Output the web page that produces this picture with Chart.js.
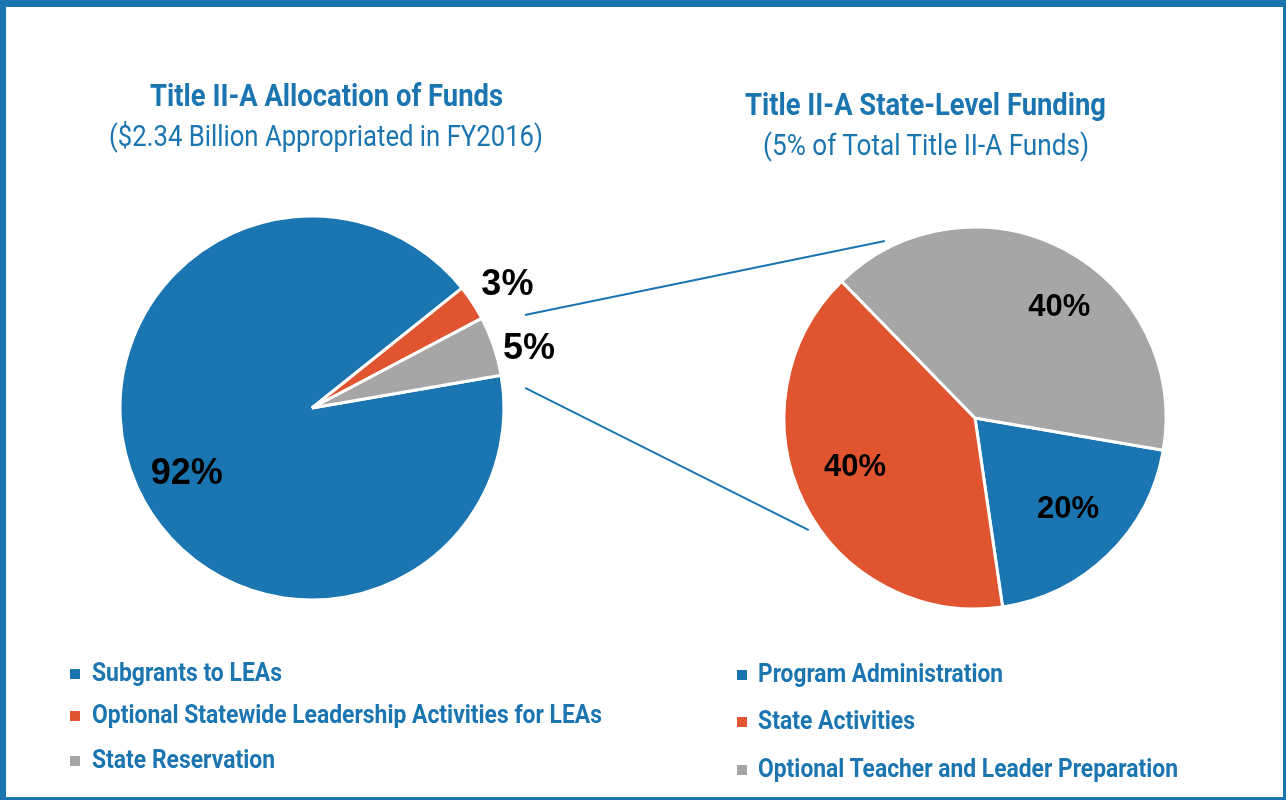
<!DOCTYPE html>
<html><head><meta charset="utf-8">
<script src="https://cdn.jsdelivr.net/npm/chart.js@4"></script>
<style>
html,body{margin:0;padding:0;background:#fff;}
#stage{position:relative;width:1286px;height:800px;overflow:hidden;background:#fff;}
canvas{position:absolute;left:0;top:0;}
#frame{position:absolute;left:0;top:0;width:1286px;height:800px;box-sizing:border-box;border-style:solid;border-color:#1a75b1;border-width:7px 3px 3px 6px;pointer-events:none;}
.t{position:absolute;left:0;white-space:nowrap;font-family:Roboto,'Noto Sans',sans-serif;color:#1a75b1;line-height:1;transform-origin:0 0;}
.m{position:absolute;width:10px;height:10px;}
</style></head>
<body><div id="stage"><canvas id="c1" width="1286" height="800"></canvas><canvas id="c2" width="1286" height="800"></canvas><div id="frame"></div></div>
<script>
// ---- data ----
const leftTitle = 'Title II-A Allocation of Funds';
const leftSubtitle = '($2.34 Billion Appropriated in FY2016)';
const leftLabels = ['Subgrants to LEAs', 'Optional Statewide Leadership Activities for LEAs', 'State Reservation'];
const leftValues = [92, 3, 5];

const rightTitle = 'Title II-A State-Level Funding';
const rightSubtitle = '(5% of Total Title II-A Funds)';
const rightLabels = ['Program Administration', 'State Activities', 'Optional Teacher and Leader Preparation'];
const rightValues = [20, 40, 40];

const sliceColors = ['#1a75b1', '#e05530', '#a6a6a6'];
const BLUE = '#1a75b1';

// ---- label plugin ----
const pctLabels = {
  id: 'pctLabels',
  afterDatasetsDraw(chart, args, opts) {
    const ctx = chart.ctx;
    const meta = chart.getDatasetMeta(0);
    const vals = chart.data.datasets[0].data;
    ctx.save();
    ctx.font = 'bold ' + opts.size + 'px "Liberation Sans", Arial, sans-serif';
    ctx.fillStyle = '#000';
    ctx.textAlign = 'center';
    ctx.textBaseline = 'alphabetic';
    meta.data.forEach((arc, i) => {
      const p = arc.getProps(['x', 'y', 'startAngle', 'endAngle', 'outerRadius'], true);
      const a = (p.startAngle + p.endAngle) / 2 + opts.offsets[i] * Math.PI / 180;
      const r = p.outerRadius * opts.radii[i];
      const x = p.x + Math.cos(a) * r;
      const y = p.y + Math.sin(a) * r;
      ctx.fillText(vals[i] + '%', x, y + 0.358 * opts.size);
    });
    ctx.restore();
  }
};

function pieConfig(labels, values, rotation, radius, padding, labelOpts) {
  return {
    type: 'pie',
    data: { labels, datasets: [{ data: values, backgroundColor: sliceColors, borderColor: '#fff', borderWidth: 3, hoverOffset: 0 }] },
    options: {
      responsive: false, animation: false, rotation, radius,
      layout: { padding },
      events: [],
      plugins: { legend: { display: false }, tooltip: { enabled: false }, title: { display: false }, pctLabels: labelOpts }
    },
    plugins: [pctLabels]
  };
}

const leftChart = new Chart(document.getElementById('c1'), pieConfig(leftLabels, leftValues, 80.15, 192,
  { left: 120, right: 782, top: 216, bottom: 200 },
  { size: 36, radii: [0.73, 1.21, 1.175], offsets: [-2.4, 0.5, 2.9] }));

// connectors from left pie's small slices to right pie
const connectors = {
  id: 'connectors',
  afterDraw(chart) {
    const lm = leftChart.getDatasetMeta(0).data[0].getProps(['x', 'y', 'outerRadius'], true);
    const rm = chart.getDatasetMeta(0).data[0].getProps(['x', 'y', 'outerRadius'], true);
    const segs = [[-23.6, 1.21, 243, 1.04], [-5.4, 1.115, 146, 1.05]];
    const ctx = chart.ctx;
    ctx.save();
    ctx.strokeStyle = BLUE;
    ctx.lineWidth = 2;
    segs.forEach(s => {
      const a1 = s[0] * Math.PI / 180, a2 = s[2] * Math.PI / 180;
      ctx.beginPath();
      ctx.moveTo(lm.x + Math.cos(a1) * lm.outerRadius * s[1], lm.y + Math.sin(a1) * lm.outerRadius * s[1]);
      ctx.lineTo(rm.x + Math.cos(a2) * rm.outerRadius * s[3], rm.y + Math.sin(a2) * rm.outerRadius * s[3]);
      ctx.stroke();
    });
    ctx.restore();
  }
};
const rcfg = pieConfig(rightLabels, rightValues, 99.7, 191,
  { left: 784, right: 120, top: 227, bottom: 191 },
  { size: 31, radii: [0.674, 0.675, 0.74], offsets: [-2, 4.9, 8.9] });
rcfg.plugins.push(connectors);
const rightChart = new Chart(document.getElementById('c2'), rcfg);

// ---- HTML text: titles and legends ----
const stage = document.getElementById('stage');
const frame = document.getElementById('frame');
const items = [];
function addText(text, o) {
  const d = document.createElement('div');
  d.className = 't';
  d.textContent = text;
  d.style.fontSize = o.size + 'px';
  d.style.fontWeight = o.bold ? '700' : '400';
  d.style.top = (o.baseline - 0.842 * o.size) + 'px';
  stage.insertBefore(d, frame);
  items.push({ d, o });
  return d;
}
function layout() {
  items.forEach(({ d, o }) => {
    d.style.transform = 'none';
    d.style.left = '0px';
    const w = d.getBoundingClientRect().width;
    const s = o.width / w;
    d.style.left = (o.anchor === 'center' ? o.x - o.width / 2 : o.x) + 'px';
    d.style.transform = 'scaleX(' + s + ')';
  });
}
addText(leftTitle, { x: 326, anchor: 'center', baseline: 106, size: 32, bold: true, width: 353 });
addText(leftSubtitle, { x: 326, anchor: 'center', baseline: 146, size: 30, bold: false, width: 434 });
addText(rightTitle, { x: 925, anchor: 'center', baseline: 115, size: 32, bold: true, width: 361 });
addText(rightSubtitle, { x: 926, anchor: 'center', baseline: 155, size: 29, bold: false, width: 326 });

function addLegend(labels, x, mx, baselines, widths) {
  labels.forEach((lab, i) => {
    const m = document.createElement('div');
    m.className = 'm';
    m.style.background = sliceColors[i];
    m.style.left = mx + 'px';
    m.style.top = (baselines[i] - 12) + 'px';
    stage.insertBefore(m, frame);
    addText(lab, { x, anchor: 'left', baseline: baselines[i], size: 26, bold: true, width: widths[i] });
  });
}
addLegend(leftLabels, 92, 70, [681, 723, 768], [190, 510, 183]);
addLegend(rightLabels, 758, 737, [682, 729, 777], [245, 157, 420]);
layout();
if (document.fonts && document.fonts.ready) document.fonts.ready.then(layout);
</script>
</body></html>
